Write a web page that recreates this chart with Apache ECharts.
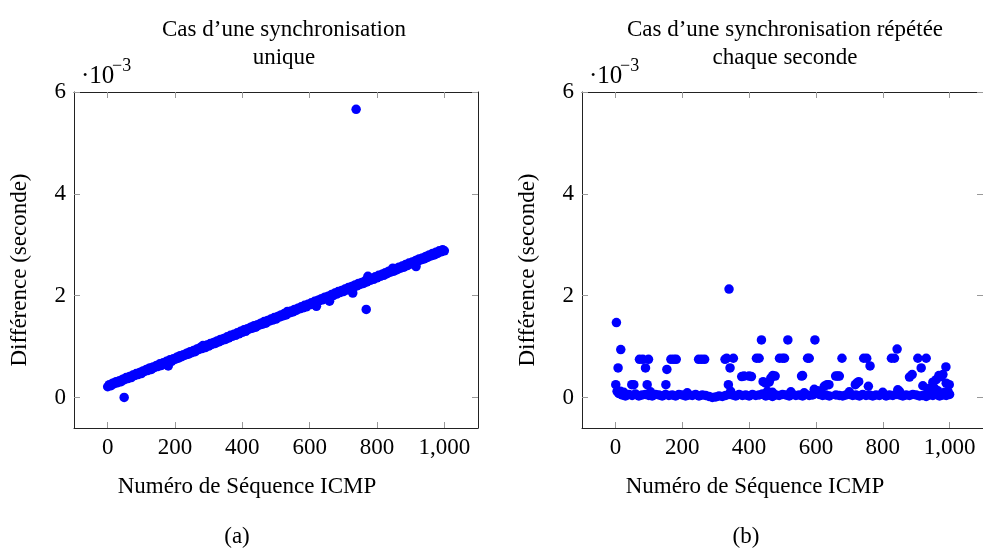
<!DOCTYPE html>
<html>
<head>
<meta charset="utf-8">
<script src="https://cdn.jsdelivr.net/npm/echarts@6/dist/echarts.min.js"></script>
<style>
html,body{margin:0;padding:0;background:#fff;}
#chart{width:983px;height:550px;}
</style>
</head>
<body>
<div id="chart"></div>
<script>
// ---------- DATA (values in units of 1e-3 s) ----------
const titleA = ['Cas d’une synchronisation', 'unique'];
const titleB = ['Cas d’une synchronisation répétée', 'chaque seconde'];
const xTitle = 'Numéro de Séquence ICMP';
const yTitle = 'Différence (seconde)';
const xTicks = [0, 200, 400, 600, 800, 1000];
const yTicks = [0, 2, 4, 6];

// (a) single synchronisation
const seqA = [0,10,20,30,40,50,60,70,80,90,100,110,120,130,140,150,160,170,180,190,
  200,210,220,230,240,250,260,270,280,290,300,310,320,330,340,350,360,370,380,390,
  400,410,420,430,440,450,460,470,480,490,500,510,520,530,540,550,560,570,580,590,
  600,610,620,630,640,650,660,670,680,690,700,710,720,730,740,750,760,770,780,790,
  800,810,820,830,840,850,860,870,880,890,900,910,920,930,940,950,960,970,980,990,1000,
  180,283,534,620,659,728,773,847,916,49,738,768];
const diffA = [0.21,0.23,0.27,0.29,0.31,0.35,0.37,0.39,0.43,0.45,0.47,0.51,0.53,0.55,0.59,0.61,0.63,0.67,0.69,0.71,
  0.75,0.77,0.80,0.83,0.85,0.88,0.90,0.94,0.96,0.98,1.01,1.04,1.06,1.09,1.12,1.14,1.17,1.20,1.22,1.25,
  1.28,1.30,1.34,1.36,1.38,1.42,1.44,1.46,1.50,1.52,1.54,1.58,1.60,1.62,1.66,1.68,1.71,1.74,1.76,1.78,
  1.82,1.84,1.86,1.90,1.92,1.95,1.98,2.00,2.03,2.06,2.08,2.11,2.14,2.16,2.19,2.22,2.24,2.27,2.30,2.32,
  2.35,2.38,2.40,2.43,2.46,2.48,2.51,2.54,2.56,2.59,2.62,2.64,2.67,2.70,2.72,2.75,2.78,2.80,2.83,2.86,2.88,
  0.62,1.02,1.69,1.79,1.89,2.05,2.38,2.54,2.57,0.00,5.66,1.73];
const seqA2 = [5,15,25,35,45,55,65,75,85,95,105,115,125,135,145,155,165,175,185,195,
  205,215,225,235,245,255,265,275,285,295,305,315,325,335,345,355,365,375,385,395,
  405,415,425,435,445,455,465,475,485,495,505,515,525,535,545,555,565,575,585,595,
  605,615,625,635,645,655,665,675,685,695,705,715,725,735,745,755,765,775,785,795,
  805,815,825,835,845,855,865,875,885,895,905,915,925,935,945,955,965,975,985,995];
const diffA2 = [0.25,0.28,0.31,0.33,0.36,0.39,0.41,0.44,0.47,0.49,0.52,0.55,0.58,0.60,0.63,0.66,0.68,0.71,0.74,0.76,
  0.79,0.82,0.84,0.87,0.90,0.92,0.95,0.98,1.00,1.03,1.06,1.08,1.11,1.14,1.16,1.19,1.22,1.24,1.27,1.30,
  1.33,1.35,1.38,1.41,1.43,1.46,1.49,1.51,1.54,1.57,1.59,1.62,1.65,1.67,1.70,1.73,1.75,1.78,1.81,1.83,
  1.86,1.89,1.91,1.94,1.97,1.99,2.02,2.05,2.08,2.10,2.13,2.16,2.18,2.21,2.24,2.26,2.29,2.32,2.34,2.37,
  2.40,2.42,2.45,2.48,2.50,2.53,2.56,2.58,2.61,2.64,2.66,2.69,2.72,2.74,2.77,2.80,2.83,2.85,2.88,2.90];

// (b) synchronisation repeated every second
const seqB = [10,20,30,40,50,60,70,80,90,100,110,120,130,140,150,160,170,180,190,200,
  210,220,230,240,250,260,270,280,290,300,310,320,330,340,350,360,370,380,390,400,
  410,420,430,440,450,460,470,480,490,500,510,520,530,540,550,560,570,580,590,600,
  610,620,630,640,660,670,680,690,700,710,720,730,740,750,760,770,780,790,800,
  810,820,830,840,850,860,870,880,890,900,910,920,930,940,950,960,970,980,990,1000,
  15,25,105,215,345,455,470,525,565,605,615,700,800,850,935,945,965,985,995,
  3,16,8,1,5,12,49,55,72,82,99,90,95,151,154,166,175,182,249,258,267,
  328,333,353,343,338,340,378,385,400,407,422,430,437,442,450,460,471,465,478,
  491,500,506,516,557,560,575,580,597,595,625,633,639,659,665,670,678,
  718,722,728,743,752,762,757,826,835,843,845,880,888,905,915,920,930,
  940,950,955,960,968,975,980,989,999,990];
const diffB = [0.08,0.05,0.03,0.06,0.04,0.07,0.03,0.05,0.06,0.04,0.03,0.06,0.05,0.03,0.06,0.04,0.05,0.03,0.06,0.05,
  0.03,0.05,0.04,0.06,0.03,0.05,0.04,0.02,0.00,0.01,0.03,0.02,0.04,0.06,0.05,0.03,0.06,0.04,0.05,0.03,
  0.06,0.04,0.05,0.07,0.03,0.05,0.02,0.05,0.04,0.06,0.05,0.03,0.06,0.04,0.05,0.03,0.06,0.04,0.05,0.08,
  0.06,0.04,0.05,0.03,0.05,0.04,0.03,0.05,0.06,0.04,0.05,0.03,0.06,0.04,0.05,0.03,0.05,0.04,0.06,
  0.03,0.05,0.04,0.06,0.05,0.03,0.05,0.04,0.06,0.05,0.03,0.04,0.02,0.05,0.04,0.06,0.03,0.05,0.04,0.06,
  0.12,0.10,0.11,0.09,0.12,0.12,0.10,0.11,0.09,0.13,0.10,0.11,0.10,0.12,0.12,0.10,0.13,0.10,0.12,
  1.47,0.94,0.58,0.25,0.12,0.08,0.25,0.25,0.75,0.75,0.75,0.58,0.25,0.25,0.55,0.75,0.75,0.75,0.75,0.75,0.75,
  0.75,0.77,0.77,0.58,0.25,2.13,0.41,0.42,0.42,0.41,0.77,0.77,1.13,0.31,0.28,0.30,0.43,0.38,0.42,
  0.77,0.77,0.77,1.13,0.42,0.43,0.77,0.77,1.13,0.16,0.22,0.25,0.25,0.42,0.42,0.42,0.77,
  0.25,0.28,0.31,0.77,0.77,0.62,0.22,0.77,0.77,0.95,0.15,0.40,0.45,0.77,0.58,0.23,0.77,
  0.18,0.30,0.18,0.35,0.43,0.41,0.45,0.60,0.25,0.28];

// ---------- CHART ----------
const FONT = 'Liberation Serif';
const FS = 23;
const BLUE = '#0000ff';
const SYM = 9.5;
const pairs = (xs, ys) => xs.map((x, i) => [x, ys[i]]);
const fmtX = v => v >= 1000 ? (Math.floor(v / 1000) + ',' + String(v % 1000).padStart(3, '0')) : String(v);

const grids = [
  {left: 74, top: 92, width: 404, height: 336},
  {left: 582, top: 92, width: 406, height: 336}
];

function xAxes(gi) {
  const base = {
    gridIndex: gi, type: 'value', min: -100, max: 1100,
    splitLine: {show: false},
    axisLine: {show: true, onZero: false, lineStyle: {color: '#222', width: 1}}
  };
  return [
    Object.assign({}, base, {
      position: 'bottom',
      axisTick: {show: true, inside: true, length: 6, customValues: xTicks, lineStyle: {color: '#999'}},
      axisLabel: {show: true, customValues: xTicks, formatter: fmtX, margin: 8,
        color: '#000', fontFamily: FONT, fontSize: FS}
    }),
    Object.assign({}, base, {
      position: 'top',
      axisTick: {show: true, inside: true, length: 6, customValues: xTicks, lineStyle: {color: '#999'}},
      axisLabel: {show: false}
    })
  ];
}
function yAxes(gi) {
  const base = {
    gridIndex: gi, type: 'value', min: -0.6, max: 6,
    splitLine: {show: false},
    axisLine: {show: true, onZero: false, lineStyle: {color: '#222', width: 1}}
  };
  return [
    Object.assign({}, base, {
      position: 'left',
      axisTick: {show: true, inside: true, length: 6, customValues: yTicks, lineStyle: {color: '#999'}},
      axisLabel: {show: true, customValues: yTicks, margin: 8,
        color: '#000', fontFamily: FONT, fontSize: FS}
    }),
    Object.assign({}, base, {
      position: 'right',
      axisTick: {show: true, inside: true, length: 6, customValues: yTicks, lineStyle: {color: '#999'}},
      axisLabel: {show: false}
    })
  ];
}

function txt(x, y, s, opts) {
  return {
    type: 'text', x: x, y: y,
    style: Object.assign({text: s, fill: '#000', font: FS + 'px "' + FONT + '"',
      align: 'center', verticalAlign: 'middle'}, opts || {})
  };
}
function rotTxt(x, y, s) {
  const t = txt(x, y, s);
  t.rotation = Math.PI / 2;
  return t;
}

const graphics = [
  txt(284, 30, titleA[0]), txt(284, 58, titleA[1]),
  txt(785, 30, titleB[0]), txt(785, 58, titleB[1]),
  txt(81, 76, '·10', {align: 'left', font: '25px "' + FONT + '"'}),
  txt(112, 66, '−3', {align: 'left', font: '18px "' + FONT + '"'}),
  txt(589, 76, '·10', {align: 'left', font: '25px "' + FONT + '"'}),
  txt(620, 66, '−3', {align: 'left', font: '18px "' + FONT + '"'}),
  rotTxt(20, 270, yTitle), rotTxt(528, 270, yTitle),
  txt(247, 487, xTitle), txt(755, 487, xTitle),
  txt(237, 537, '(a)'), txt(746, 537, '(b)')
];

const chart = echarts.init(document.getElementById('chart'), null, {renderer: 'canvas'});
chart.setOption({
  animation: false,
  backgroundColor: '#fff',
  grid: grids,
  xAxis: [...xAxes(0), ...xAxes(1)],
  yAxis: [...yAxes(0), ...yAxes(1)],
  series: [
    {type: 'scatter', xAxisIndex: 0, yAxisIndex: 0,
      data: pairs(seqA, diffA).concat(pairs(seqA2, diffA2)),
      symbol: 'circle', symbolSize: SYM, itemStyle: {color: BLUE, opacity: 1}},
    {type: 'scatter', xAxisIndex: 2, yAxisIndex: 2, data: pairs(seqB, diffB),
      symbol: 'circle', symbolSize: SYM, itemStyle: {color: BLUE, opacity: 1}}
  ],
  graphic: graphics
});
</script>
</body>
</html>
